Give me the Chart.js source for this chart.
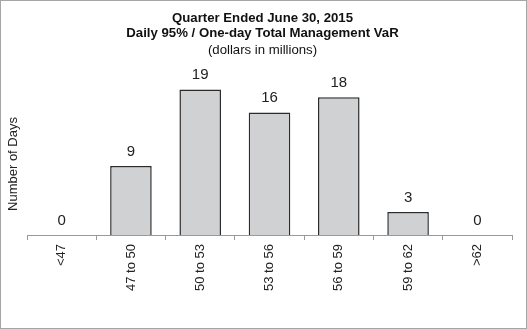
<!DOCTYPE html>
<html>
<head>
<meta charset="utf-8">
<script src="https://cdn.jsdelivr.net/npm/chart.js@4"></script>
<style>
html,body{margin:0;padding:0;background:#fff;}
#wrap{width:527px;height:329px;position:relative;}
</style>
</head>
<body>
<div id="wrap"><canvas id="c" width="527" height="329"></canvas></div>
<script>
const categories = ["<47", "47 to 50", "50 to 53", "53 to 56", "56 to 59", "59 to 62", ">62"];
const days = [0, 9, 19, 16, 18, 3, 0];
const titleLines = ["Quarter Ended June 30, 2015", "Daily 95% / One-day Total Management VaR"];
const subtitleText = "(dollars in millions)";
const yAxisTitle = "Number of Days";

const FONT = "'Liberation Sans', Arial, sans-serif";

const frame = {
  id: 'frame',
  beforeDraw(chart) {
    const ctx = chart.ctx;
    ctx.save();
    ctx.fillStyle = '#fff';
    ctx.fillRect(0, 0, chart.width, chart.height);
    ctx.strokeStyle = '#a6a6a6';
    ctx.lineWidth = 1;
    ctx.strokeRect(0.5, 0.5, chart.width - 1, chart.height - 1);
    ctx.restore();
  },
  afterDraw(chart) {
    const ctx = chart.ctx;
    ctx.save();
    ctx.font = "13px " + FONT;
    ctx.fillStyle = '#222';
    ctx.textAlign = 'center';
    ctx.textBaseline = 'middle';
    ctx.translate(13, 164);
    ctx.rotate(-Math.PI / 2);
    ctx.fillText(yAxisTitle, 0, 0);
    ctx.restore();
  }
};

const valueLabels = {
  id: 'valueLabels',
  afterDatasetsDraw(chart) {
    const ctx = chart.ctx;
    const meta = chart.getDatasetMeta(0);
    ctx.save();
    ctx.font = "15px " + FONT;
    ctx.fillStyle = '#222';
    ctx.textAlign = 'center';
    ctx.textBaseline = 'bottom';
    meta.data.forEach((bar, i) => {
      ctx.fillText(String(chart.data.datasets[0].data[i]), bar.x, bar.y - 7);
    });
    ctx.restore();
  }
};

new Chart(document.getElementById('c'), {
  type: 'bar',
  data: {
    labels: categories,
    datasets: [{
      data: days,
      backgroundColor: '#d0d1d3',
      borderColor: '#2b2b2b',
      borderWidth: 1.5,
      categoryPercentage: 1,
      barPercentage: 0.6
    }]
  },
  options: {
    responsive: false,
    animation: false,
    devicePixelRatio: 1,
    layout: { padding: { left: 13, right: 15, top: 0, bottom: 34 } },
    plugins: {
      legend: { display: false },
      tooltip: { enabled: false },
      title: {
        display: true,
        text: titleLines,
        color: '#111',
        font: { family: FONT, size: 13.2, weight: 'bold', lineHeight: 1.15 },
        padding: { top: 11, bottom: 1 }
      },
      subtitle: {
        display: true,
        text: subtitleText,
        color: '#111',
        font: { family: FONT, size: 13.2, weight: 'normal', lineHeight: 1.15 },
        padding: { top: 0, bottom: 9 }
      }
    },
    scales: {
      x: {
        grid: { display: true, drawOnChartArea: false, tickLength: 5, color: '#9a9a9a', offset: true },
        border: { display: true, color: '#9a9a9a' },
        ticks: { minRotation: 90, maxRotation: 90, color: '#222', font: { family: FONT, size: 13 }, padding: 4 }
      },
      y: {
        display: true,
        min: 0,
        max: 22,
        grid: { display: false },
        border: { display: false },
        ticks: { display: false },
        afterFit(scale) { scale.width = 14; }
      }
    }
  },
  plugins: [frame, valueLabels]
});
</script>
</body>
</html>
